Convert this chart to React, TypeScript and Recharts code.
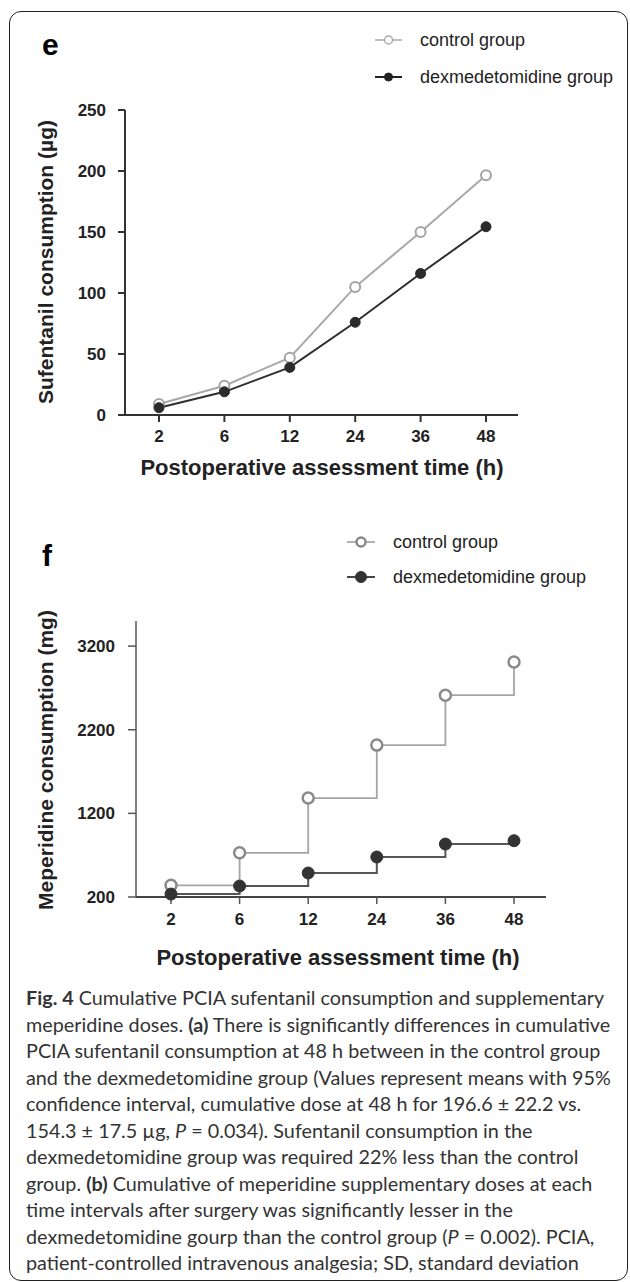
import React from 'react';
import {
  LineChart,
  Line,
  XAxis,
  YAxis,
  Legend
} from 'recharts';

// Postoperative assessment time points (h)
const TIMES = ['2', '6', '12', '24', '36', '48'];

// Panel e: cumulative sufentanil consumption (µg)
const SUF_CONTROL = [9, 24, 47, 105, 150, 196.6];
const SUF_DEX = [6, 19, 39, 76, 116, 154.3];
const SUF_TICKS = [0, 50, 100, 150, 200, 250];

// Panel f: cumulative meperidine consumption (mg)
const MEP_CONTROL = [340, 728, 1383, 2016, 2613, 3011];
const MEP_DEX = [235, 331, 487, 678, 833, 873];
const MEP_TICKS = [200, 1200, 2200, 3200];

const SERIES_NAMES = ['control group', 'dexmedetomidine group'];

const CAPTION_LINES: React.ReactNode[] = [
  <><b>Fig. 4</b> Cumulative PCIA sufentanil consumption and supplementary</>,
  <>meperidine doses. <b>(a)</b> There is significantly differences in cumulative</>,
  <>PCIA sufentanil consumption at 48 h between in the control group</>,
  <>and the dexmedetomidine group (Values represent means with 95%</>,
  <>confidence interval, cumulative dose at 48 h for 196.6 ± 22.2 vs.</>,
  <>154.3 ± 17.5 µg, <i>P</i> = 0.034). Sufentanil consumption in the</>,
  <>dexmedetomidine group was required 22% less than the control</>,
  <>group. <b>(b)</b> Cumulative of meperidine supplementary doses at each</>,
  <>time intervals after surgery was significantly lesser in the</>,
  <>dexmedetomidine gourp than the control group (<i>P</i> = 0.002). PCIA,</>,
  <>patient-controlled intravenous analgesia; SD, standard deviation</>
];

const sufData = TIMES.map((t, i) => ({ time: t, control: SUF_CONTROL[i], dex: SUF_DEX[i] }));
const mepData = TIMES.map((t, i) => ({ time: t, control: MEP_CONTROL[i], dex: MEP_DEX[i] }));

const FONT = '"Liberation Sans", Arial, sans-serif';
const tickStyle = { fontSize: 17, fontWeight: 700, fill: '#222', fontFamily: FONT };

interface MarkerStyle {
  line: string;
  lineWidth: number;
  r: number;
  fill: string;
  stroke: string;
  strokeWidth: number;
}

const LegendBox = ({ markers, rowGap, markerW, textGap }: {
  markers: MarkerStyle[]; rowGap: number; markerW: number; textGap: number;
}) => (
  <div style={{ fontFamily: FONT, fontSize: 18, color: '#222' }}>
    {markers.map((m, i) => (
      <div key={i} style={{ display: 'flex', alignItems: 'center', height: 24, marginBottom: i === 0 ? rowGap : 0 }}>
        <svg width={markerW} height={16} style={{ flex: 'none' }}>
          <line x1={0} y1={8} x2={markerW} y2={8} stroke={m.line} strokeWidth={m.lineWidth} />
          <circle cx={markerW / 2} cy={8} r={m.r} fill={m.fill} stroke={m.stroke} strokeWidth={m.strokeWidth} />
        </svg>
        <span style={{ marginLeft: textGap, whiteSpace: 'nowrap' }}>{SERIES_NAMES[i]}</span>
      </div>
    ))}
  </div>
);

const PanelLetter = ({ letter, left, top }: { letter: string; left: number; top: number }) => (
  <div style={{ position: 'absolute', left, top, fontFamily: FONT, fontWeight: 700, fontSize: 30, lineHeight: '30px' }}>
    {letter}
  </div>
);

const YTitle = ({ text, cx, cy }: { text: string; cx: number; cy: number }) => (
  <div style={{
    position: 'absolute', left: cx, top: cy, transform: 'translate(-50%, -50%) rotate(-90deg)',
    fontFamily: FONT, fontWeight: 700, fontSize: 21, color: '#222', whiteSpace: 'nowrap'
  }}>
    {text}
  </div>
);

const XTitle = ({ text, cx, cy }: { text: string; cx: number; cy: number }) => (
  <div style={{
    position: 'absolute', left: cx, top: cy, transform: 'translate(-50%, -50%)',
    fontFamily: FONT, fontWeight: 700, fontSize: 22, color: '#222', whiteSpace: 'nowrap'
  }}>
    {text}
  </div>
);

export default function App() {
  return (
    <div style={{ position: 'relative', width: 630, height: 1282, background: '#fff', overflow: 'hidden', fontFamily: FONT }}>
      <style>{'body{margin:0}'}</style>

      {/* rounded frame */}
      <div style={{
        position: 'absolute', left: 9, top: 11, width: 617, height: 1268,
        border: '1.5px solid #222', borderRadius: 12
      }} />

      {/* Panel e */}
      <PanelLetter letter="e" left={42} top={30} />
      <div style={{ position: 'absolute', left: 0, top: 0 }}>
        <LineChart width={630} height={490} data={sufData} margin={{ top: 110, right: 112, left: 65, bottom: 45 }}>
          <XAxis
            dataKey="time"
            type="category"
            padding={{ left: 34, right: 32 }}
            tick={tickStyle}
            tickSize={7}
            tickMargin={8}
            tickLine={{ stroke: '#333', strokeWidth: 2 }}
            axisLine={{ stroke: '#333', strokeWidth: 2 }}
          />
          <YAxis
            domain={[0, 250]}
            ticks={SUF_TICKS}
            tick={tickStyle}
            tickSize={7}
            tickMargin={12}
            tickLine={{ stroke: '#333', strokeWidth: 2 }}
            axisLine={{ stroke: '#333', strokeWidth: 2 }}
          />
          <Legend
            layout="vertical"
            align="center"
            verticalAlign="middle"
            wrapperStyle={{ left: 375, top: 28, width: 250 }}
            content={() => (
              <LegendBox
                rowGap={13}
                markerW={27}
                textGap={18}
                markers={[
                  { line: '#aaa', lineWidth: 1.5, r: 4, fill: '#fff', stroke: '#aaa', strokeWidth: 1.5 },
                  { line: '#222', lineWidth: 2, r: 4, fill: '#222', stroke: '#222', strokeWidth: 1 }
                ]}
              />
            )}
          />
          <Line
            type="linear"
            dataKey="control"
            stroke="#a8a8a8"
            strokeWidth={2}
            dot={{ r: 5, fill: '#fff', stroke: '#a3a3a3', strokeWidth: 2 }}
            isAnimationActive={false}
          />
          <Line
            type="linear"
            dataKey="dex"
            stroke="#2e2e2e"
            strokeWidth={2}
            dot={{ r: 5, fill: '#2b2b2b', stroke: '#2b2b2b', strokeWidth: 1 }}
            isAnimationActive={false}
          />
        </LineChart>
      </div>
      <YTitle text="Sufentanil consumption (µg)" cx={46} cy={262} />
      <XTitle text="Postoperative assessment time (h)" cx={322} cy={468} />

      {/* Panel f */}
      <PanelLetter letter="f" left={42} top={541} />
      <div style={{ position: 'absolute', left: 0, top: 500 }}>
        <LineChart width={630} height={470} data={mepData} margin={{ top: 121, right: 84, left: 76, bottom: 43 }}>
          <XAxis
            dataKey="time"
            type="category"
            padding={{ left: 35, right: 32 }}
            tick={tickStyle}
            tickSize={7}
            tickMargin={9}
            tickLine={{ stroke: '#555', strokeWidth: 1.5 }}
            axisLine={{ stroke: '#444', strokeWidth: 2 }}
          />
          <YAxis
            domain={[200, 3500]}
            ticks={MEP_TICKS}
            tick={tickStyle}
            tickSize={8}
            tickMargin={13}
            tickLine={{ stroke: '#555', strokeWidth: 1.5 }}
            axisLine={{ stroke: '#555', strokeWidth: 1.5 }}
          />
          <Legend
            layout="vertical"
            align="center"
            verticalAlign="middle"
            wrapperStyle={{ left: 347, top: 30, width: 270 }}
            content={() => (
              <LegendBox
                rowGap={11}
                markerW={28}
                textGap={18}
                markers={[
                  { line: '#999', lineWidth: 1.5, r: 4.5, fill: '#fff', stroke: '#888', strokeWidth: 2.5 },
                  { line: '#444', lineWidth: 2, r: 5.5, fill: '#333', stroke: '#333', strokeWidth: 1 }
                ]}
              />
            )}
          />
          <Line
            type="stepAfter"
            dataKey="control"
            stroke="#a6a6a6"
            strokeWidth={1.8}
            dot={{ r: 5.5, fill: '#fff', stroke: '#8a8a8a', strokeWidth: 2.5 }}
            isAnimationActive={false}
          />
          <Line
            type="stepAfter"
            dataKey="dex"
            stroke="#555"
            strokeWidth={2}
            dot={{ r: 6, fill: '#333', stroke: '#333', strokeWidth: 1 }}
            isAnimationActive={false}
          />
        </LineChart>
      </div>
      <YTitle text="Meperidine consumption (mg)" cx={46} cy={760} />
      <XTitle text="Postoperative assessment time (h)" cx={338} cy={958} />

      {/* caption */}
      <div style={{
        position: 'absolute', left: 26, top: 984, fontFamily: 'Lato, sans-serif', fontSize: 19.8,
        lineHeight: '26.5px', color: '#333'
      }}>
        {CAPTION_LINES.map((l, i) => (
          <div key={i} style={{ whiteSpace: 'nowrap' }}>{l}</div>
        ))}
      </div>
    </div>
  );
}
